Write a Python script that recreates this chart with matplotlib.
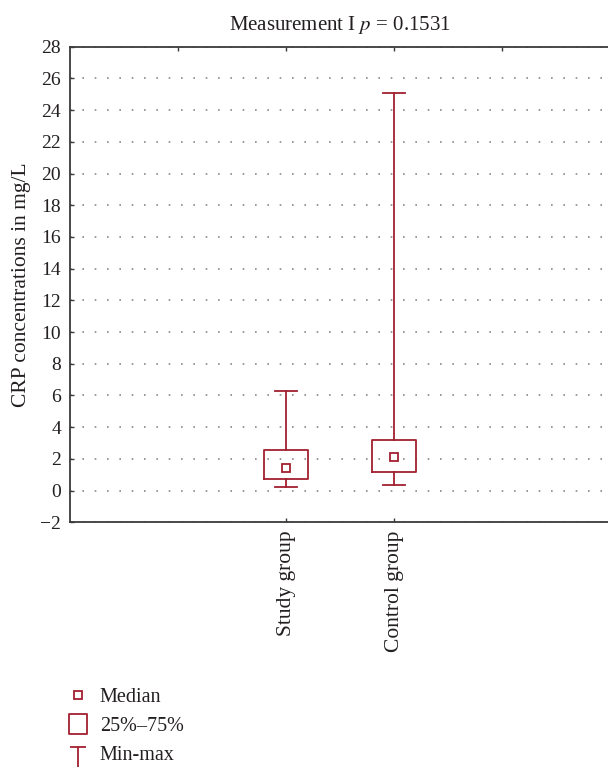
import matplotlib
matplotlib.use("Agg")
import matplotlib.pyplot as plt
from matplotlib.lines import Line2D
from matplotlib.path import Path

# values (mg/L)
groups = ["Study group", "Control group"]
q1 = [0.74, 1.16]
q3 = [2.53, 3.18]
medians = [1.41, 2.11]
mins = [0.21, 0.34]
maxs = [6.28, 25.11]

red = "#a3202f"
ink = "#231f20"

plt.rcParams["font.family"] = ["Liberation Serif", "DejaVu Serif"]
plt.rcParams["mathtext.fontset"] = "stix"
plt.rcParams["font.size"] = 14

fig = plt.figure(figsize=(6.08, 7.67), dpi=100)
ax = fig.add_axes([70 / 608, 1 - 522.3 / 767, 540 / 608, 475.6 / 767])

positions = [2, 3]
stats = []
for g, a, b, m, lo, hi in zip(groups, q1, q3, medians, mins, maxs):
    stats.append({"label": g, "q1": a, "q3": b, "med": m, "mean": m,
                  "whislo": lo, "whishi": hi, "fliers": []})

ax.bxp(stats, positions=positions, widths=0.4, capwidths=0.2,
       showmeans=True,
       boxprops=dict(color=red, linewidth=1.3),
       whiskerprops=dict(color=red, linewidth=1.3),
       capprops=dict(color=red, linewidth=1.3),
       medianprops=dict(linestyle="none"),
       meanprops=dict(marker="s", markersize=5.8, markerfacecolor="white",
                      markeredgecolor=red, markeredgewidth=1.3))

ax.set_xlim(0, 5)
ax.set_ylim(-2, 28)
ax.set_yticks(range(-2, 29, 2))
ax.set_xticks(positions, groups, rotation=90, va="top")
ax.yaxis.grid(True, linestyle=(0, (1, 6.4)), color="#8a8a8a", linewidth=1.2)
ax.set_axisbelow(True)

for s in ["left", "top", "bottom"]:
    ax.spines[s].set_color("#3a3a3a")
    ax.spines[s].set_linewidth(1.3)
ax.spines["right"].set_visible(False)
ax.tick_params(direction="in", length=3, width=1, colors="#3a3a3a",
               labelcolor=ink)
ax.tick_params(axis="x", pad=6, labelsize=15.5)
ax.tick_params(axis="y", pad=6.5, labelsize=14)

top = ax.secondary_xaxis("top")
top.set_xticks([1, 2, 3, 4], labels=[])
top.tick_params(direction="in", length=3, width=1, colors="#3a3a3a")
top.spines["top"].set_visible(False)

ax.set_ylabel("CRP concentrations in mg/L", color=ink, labelpad=6.4,
              fontsize=15.5)
ax.set_title("Measurement I $p$ = 0.1531", color=ink, pad=12, fontsize=15)

# legend
box = Path([(-0.45, -0.5), (0.45, -0.5), (0.45, 0.5), (-0.45, 0.5),
            (-0.45, -0.5)], closed=True)
tee = Path([(-0.576, 0.43), (0.576, 0.43), (0, 0.43), (0, -1)],
           [Path.MOVETO, Path.LINETO, Path.MOVETO, Path.LINETO])
handles = [
    Line2D([], [], linestyle="none", marker="s", markersize=5.5,
           markerfacecolor="white", markeredgecolor=red, markeredgewidth=1.3),
    Line2D([], [], linestyle="none", marker=box, markersize=13.7,
           markerfacecolor="white", markeredgecolor=red, markeredgewidth=1.3),
    Line2D([], [], linestyle="none", marker=tee, markersize=20,
           markerfacecolor="none", markeredgecolor=red, markeredgewidth=1.3),
]
fig.legend(handles, ["Median", "25%–75%", "Min-max"], loc="upper left",
           bbox_to_anchor=(57.8 / 608, 1 - 680 / 767), frameon=False,
           fontsize=14.5, labelcolor=ink, handlelength=1.2,
           handletextpad=0.49, labelspacing=0.5, borderaxespad=0)

fig.savefig("out.png", dpi=100)
